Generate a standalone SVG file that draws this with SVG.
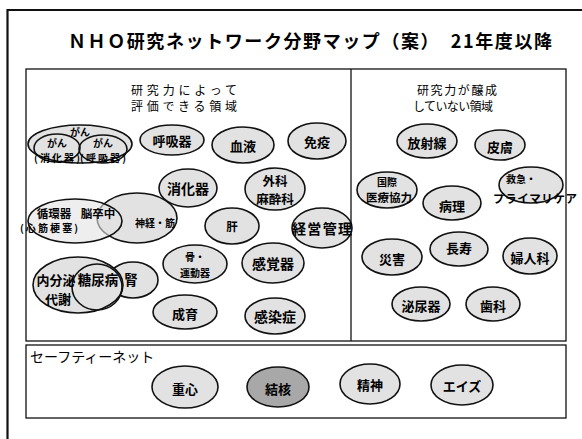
<svg xmlns="http://www.w3.org/2000/svg" width="582" height="439" viewBox="0 0 582 439">
<style>
text{font-family:"Noto Sans CJK JP","Noto Sans CJK SC",sans-serif;fill:#000}
.t{font-size:18px;font-weight:bold}
.h{font-size:12px;text-anchor:middle}
.n{fill:#e2e2e2;stroke:#111;stroke-width:1.6}
.o{fill:none;stroke:#111;stroke-width:1.6}
.dk{fill:#a8a8a8;stroke:#111;stroke-width:1.6}
.l{font-weight:bold;text-anchor:middle;dominant-baseline:central;font-size:13px}
.s{font-size:10px}
.m{font-size:11.5px}
.b{font-size:14px}
.frame{fill:none;stroke:#111}
</style>
<rect width="582" height="439" fill="#fff"/>
<g id="frame">
<path d="M7.5 439V10H582" fill="none" stroke="#111" stroke-width="2.2"/>
<rect class="frame" x="26" y="69" width="540" height="272" stroke-width="1.3"/>
<line x1="351" y1="69" x2="351" y2="341" stroke="#111" stroke-width="1.3"/>
<rect class="frame" x="26" y="345" width="540" height="73" stroke-width="1.3"/>
</g>
<text class="t" x="68" y="48" textLength="484" lengthAdjust="spacing">ＮＨＯ研究ネットワーク分野マップ（案）　21年度以降</text>
<text class="h" x="184" y="95" textLength="106" lengthAdjust="spacing">研究力によって</text>
<text class="h" x="184" y="111" textLength="106" lengthAdjust="spacing">評価できる領域</text>
<text class="h" x="457" y="95" textLength="80" lengthAdjust="spacing">研究力が醸成</text>
<text class="h" x="453" y="111" textLength="80" lengthAdjust="spacing">していない領域</text>

<g id="gan">
<ellipse class="n" cx="80" cy="144" rx="52" ry="19"/>
<ellipse class="o" cx="57" cy="148" rx="23" ry="14"/>
<ellipse class="o" cx="103" cy="149" rx="24" ry="14"/>
<text class="l s" x="80" y="131">がん</text>
<text class="l s" x="57" y="142">がん</text>
<text class="l s" x="57" y="157" textLength="46">(消化器)</text>
<text class="l s" x="103" y="142">がん</text>
<text class="l s" x="103" y="157" textLength="46">(呼吸器)</text>
</g>
<g id="kokyuki"><ellipse class="n" cx="172" cy="140" rx="32" ry="15"/><text class="l" x="172" y="140">呼吸器</text></g>
<g id="ketsueki"><ellipse class="n" cx="243" cy="145" rx="31" ry="18"/><text class="l" x="243" y="145">血液</text></g>
<g id="meneki"><ellipse class="n" cx="317" cy="141" rx="29" ry="18"/><text class="l" x="317" y="141">免疫</text></g>
<g id="shokaki"><ellipse class="n" cx="188" cy="188" rx="29" ry="19"/><text class="l b" x="188" y="188">消化器</text></g>
<g id="geka"><ellipse class="n" cx="275" cy="189" rx="30" ry="21"/><text class="l" x="275" y="180" style="font-size:12.5px">外科</text><text class="l" x="275" y="198" style="font-size:12.5px">麻酔科</text></g>
<g id="junkanki">
<ellipse class="n" cx="137" cy="218" rx="40" ry="25"/>
<ellipse class="n" cx="75" cy="221" rx="47" ry="22" fill-opacity="0.6"/>
<text class="l m" x="54" y="213">循環器</text>
<text class="l m" x="98" y="213">脳卒中</text>
<text class="l s" x="49" y="227" textLength="58">(心筋梗塞)</text>
<text class="l s" x="155" y="222">神経・筋</text>
</g>
<g id="kan"><ellipse class="n" cx="232" cy="226" rx="27" ry="18"/><text class="l m" x="232" y="226">肝</text></g>
<g id="keiei"><ellipse class="n" cx="322" cy="228" rx="30" ry="20"/><text class="l b" x="322" y="228" textLength="60">経営管理</text></g>
<g id="naibunpi">
<ellipse class="n" cx="133" cy="280" rx="25" ry="18"/>
<ellipse class="n" cx="78" cy="285" rx="45" ry="28"/>
<ellipse class="o" cx="97" cy="287" rx="25" ry="23"/>
<text class="l" x="56" y="279">内分泌</text>
<text class="l" x="58" y="298">代謝</text>
<text class="l" x="98" y="279" style="font-size:13.5px">糖尿病</text>
<text class="l" x="131" y="279" style="font-size:13.5px">腎</text>
</g>
<g id="hone"><ellipse class="n" cx="195" cy="264" rx="32" ry="19"/><text class="l s" x="195" y="256">骨・</text><text class="l s" x="195" y="272">運動器</text></g>
<g id="kankaku"><ellipse class="n" cx="273" cy="263" rx="31" ry="20"/><text class="l b" x="273" y="263">感覚器</text></g>
<g id="seiiku"><ellipse class="n" cx="185" cy="312" rx="32" ry="17"/><text class="l" x="185" y="313">成育</text></g>
<g id="kansen"><ellipse class="n" cx="275" cy="316" rx="30" ry="18"/><text class="l b" x="275" y="316">感染症</text></g>

<g id="hoshasen"><ellipse class="n" cx="427" cy="141" rx="30" ry="17"/><text class="l" x="427" y="142">放射線</text></g>
<g id="hifu"><ellipse class="n" cx="500" cy="145" rx="25" ry="15"/><text class="l" x="500" y="146">皮膚</text></g>
<g id="kokusai"><ellipse class="n" cx="387" cy="190" rx="30" ry="18"/><text class="l s" x="387" y="181">国際</text><text class="l m" x="389" y="197">医療協力</text></g>
<g id="byori"><ellipse class="n" cx="452" cy="203" rx="29" ry="17"/><text class="l" x="452" y="205">病理</text></g>
<g id="kyukyu"><ellipse class="n" cx="531" cy="185" rx="32" ry="18"/><text class="l s" x="521" y="178">救急・</text><text class="l m" x="535" y="198" textLength="84">プライマリケア</text></g>
<g id="saigai"><ellipse class="n" cx="392" cy="257" rx="30" ry="18"/><text class="l" x="392" y="258">災害</text></g>
<g id="choju"><ellipse class="n" cx="459" cy="249" rx="29" ry="17"/><text class="l" x="459" y="247">長寿</text></g>
<g id="fujinka"><ellipse class="n" cx="530" cy="256" rx="27" ry="18"/><text class="l" x="530" y="257">婦人科</text></g>
<g id="hinyoki"><ellipse class="n" cx="421" cy="304" rx="29" ry="17"/><text class="l" x="421" y="305">泌尿器</text></g>
<g id="shika"><ellipse class="n" cx="493" cy="304" rx="27" ry="17"/><text class="l" x="493" y="305">歯科</text></g>

<text x="30" y="362" style="font-size:14px">セーフティーネット</text>
<g id="jushin"><ellipse class="n" cx="185" cy="387" rx="33" ry="21"/><text class="l" x="185" y="388">重心</text></g>
<g id="kekkaku"><ellipse class="dk" cx="278" cy="387" rx="31" ry="20"/><text class="l" x="278" y="388">結核</text></g>
<g id="seishin"><ellipse class="n" cx="370" cy="384" rx="30" ry="20"/><text class="l" x="370" y="384">精神</text></g>
<g id="aids"><ellipse class="n" cx="462" cy="385" rx="31" ry="20"/><text class="l" x="462" y="385">エイズ</text></g>
<g id="connectors"></g>
</svg>
